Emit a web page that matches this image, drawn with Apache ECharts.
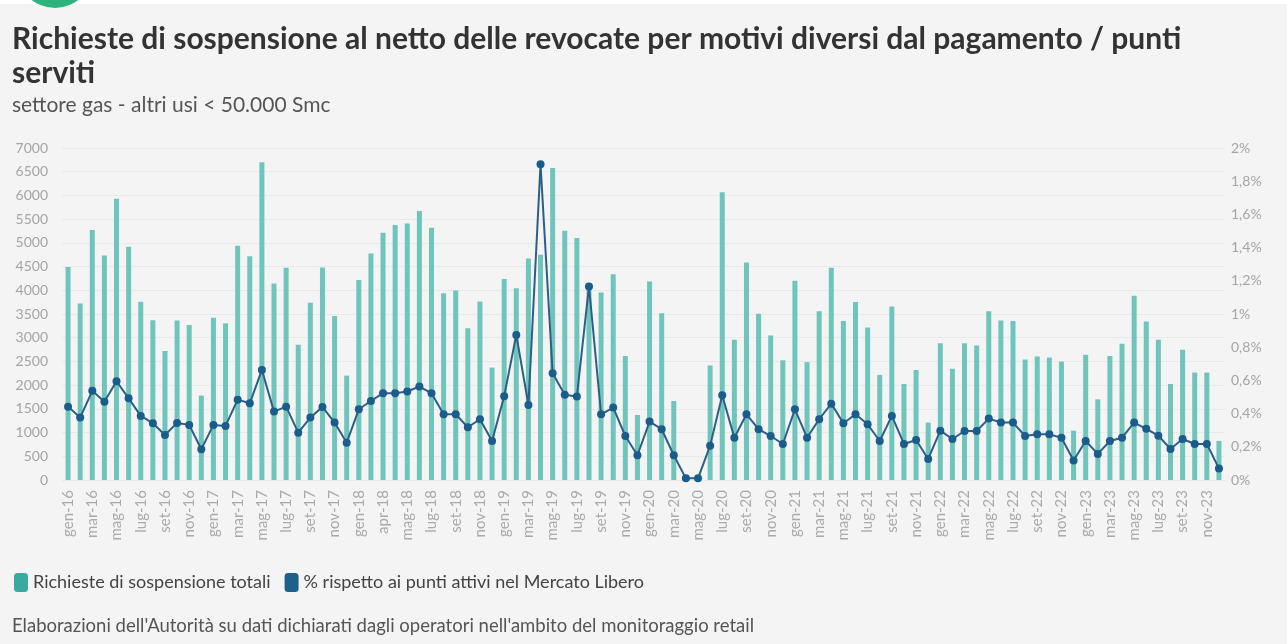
<!DOCTYPE html>
<html><head><meta charset="utf-8">
<script src="https://cdn.jsdelivr.net/npm/echarts@6/dist/echarts.min.js"></script>
<style>html,body{margin:0;padding:0;background:#f4f4f4;}#c{width:1287px;height:644px;}</style>
</head><body><div id="c"></div>
<script>
const categories = [
 'gen-16','feb-16','mar-16','apr-16','mag-16','giu-16','lug-16','ago-16','set-16','ott-16','nov-16','dic-16',
 'gen-17','feb-17','mar-17','apr-17','mag-17','giu-17','lug-17','ago-17','set-17','ott-17','nov-17','dic-17',
 'gen-18','feb-18','mar-18','apr-18','mag-18','giu-18','lug-18','ago-18','set-18','ott-18','nov-18','dic-18',
 'gen-19','feb-19','mar-19','apr-19','mag-19','giu-19','lug-19','ago-19','set-19','ott-19','nov-19','dic-19',
 'gen-20','feb-20','mar-20','apr-20','mag-20','giu-20','lug-20','ago-20','set-20','ott-20','nov-20','dic-20',
 'gen-21','feb-21','mar-21','apr-21','mag-21','giu-21','lug-21','ago-21','set-21','ott-21','nov-21','dic-21',
 'gen-22','feb-22','mar-22','apr-22','mag-22','giu-22','lug-22','ago-22','set-22','ott-22','nov-22','dic-22',
 'gen-23','feb-23','mar-23','apr-23','mag-23','giu-23','lug-23','ago-23','set-23','ott-23','nov-23','dic-23'
];
const tickLabels = [
 'gen-16','mar-16','mag-16','lug-16','set-16','nov-16',
 'gen-17','mar-17','mag-17','lug-17','set-17','nov-17',
 'gen-18','apr-18','mag-18','lug-18','set-18','nov-18',
 'gen-19','mar-19','mag-19','lug-19','set-19','nov-19',
 'gen-20','mar-20','mag-20','lug-20','set-20','nov-20',
 'gen-21','mar-21','mag-21','lug-21','set-21','nov-21',
 'gen-22','mar-22','mag-22','lug-22','set-22','nov-22',
 'gen-23','mar-23','mag-23','lug-23','set-23','nov-23'
];
const richieste = [
 4490,3720,5270,4735,5930,4920,3760,3370,2720,3365,3270,1780,
 3420,3305,4940,4715,6700,4145,4475,2850,3735,4480,3460,2200,
 4215,4775,5215,5375,5410,5670,5320,3935,3995,3200,3765,2370,
 4240,4045,4670,4750,6580,5255,5100,4050,3955,4340,2615,1370,
 4185,3515,1665,0,0,2415,6065,2955,4585,3505,3045,2525,
 4200,2485,3560,4475,3350,3755,3215,2215,3660,2025,2320,1210,
 2885,2345,2885,2835,3560,3365,3355,2540,2605,2580,2495,1040,
 2640,1700,2615,2875,3885,3340,2955,2025,2745,2265,2265,825
];
const percentuale = [
 0.442,0.376,0.537,0.472,0.595,0.492,0.386,0.342,0.271,0.344,0.332,0.185,
 0.332,0.326,0.484,0.462,0.663,0.412,0.442,0.285,0.376,0.440,0.346,0.225,
 0.426,0.476,0.523,0.523,0.533,0.563,0.523,0.396,0.396,0.318,0.366,0.235,
 0.505,0.874,0.452,1.902,0.643,0.513,0.503,1.166,0.396,0.436,0.265,0.149,
 0.352,0.306,0.149,0.01,0.01,0.207,0.511,0.255,0.396,0.306,0.265,0.217,
 0.426,0.255,0.366,0.460,0.342,0.396,0.336,0.235,0.386,0.217,0.241,0.127,
 0.297,0.247,0.295,0.295,0.370,0.346,0.346,0.265,0.275,0.275,0.255,0.117,
 0.235,0.157,0.235,0.255,0.346,0.308,0.267,0.187,0.247,0.217,0.217,0.070
];
const FONT = 'Lato';
const chart = echarts.init(document.getElementById('c'), null, {renderer: 'canvas'});
chart.setOption({
  backgroundColor: '#f4f4f4',
  animation: false,
  textStyle: {fontFamily: FONT},
  title: [
    {text: 'Richieste di sospensione al netto delle revocate per motivi diversi dal pagamento / punti serviti',
     left: 12, top: 22, padding: 0,
     textStyle: {fontFamily: FONT, fontSize: 30, fontWeight: 'bold', color: '#333', width: 1220, overflow: 'break', lineHeight: 34}},
    {text: 'settore gas - altri usi < 50.000 Smc', left: 12, top: 95, padding: 0,
     textStyle: {fontFamily: FONT, fontSize: 21, fontWeight: 'normal', color: '#555'}}
  ],
  graphic: [
    {type: 'rect', left: 0, top: 0, shape: {width: 1287, height: 4}, style: {fill: '#ffffff'}},
    {type: 'circle', shape: {cx: 55, cy: -30, r: 38}, style: {fill: '#2db37b'}},
    {type: 'text', left: 12, top: 617,
     style: {text: "Elaborazioni dell'Autorità su dati dichiarati dagli operatori nell'ambito del monitoraggio retail",
             font: '18.5px Lato', fill: '#555'}}
  ],
  legend: {
    left: 14, top: 573, itemWidth: 14, itemHeight: 19, itemGap: 14, padding: 0,
    textStyle: {fontFamily: FONT, fontSize: 18, color: '#444'},
    data: [
      {name: 'Richieste di sospensione totali', icon: 'roundRect', itemStyle: {color: '#3aaa9f'}},
      {name: '% rispetto ai punti attivi nel Mercato Libero', icon: 'roundRect', itemStyle: {color: '#1f5f8b'}}
    ]
  },
  grid: {left: 62, right: 62, top: 148, bottom: 164},
  xAxis: {
    type: 'category', data: categories,
    axisLine: {show: false}, axisTick: {show: false},
    axisLabel: {interval: 0, rotate: 90, color: '#aaa', fontSize: 15, margin: 10,
      formatter: (v, i) => i % 2 === 0 ? tickLabels[i / 2] : ''}
  },
  yAxis: [
    {type: 'value', min: 0, max: 7000, interval: 500,
     axisLabel: {color: '#a5a5a5', fontSize: 14, margin: 14, formatter: v => String(v)},
     splitLine: {lineStyle: {color: '#e9e9e9'}}, axisLine: {show: false}, axisTick: {show: false}},
    {type: 'value', min: 0, max: 2, interval: 0.2,
     axisLabel: {color: '#a5a5a5', fontSize: 14, margin: 6,
       formatter: v => (Math.round(v * 10) / 10).toString().replace('.', ',') + '%'},
     splitLine: {show: false}, axisLine: {show: false}, axisTick: {show: false}}
  ],
  series: [
    {name: 'Richieste di sospensione totali', type: 'bar', data: richieste, barWidth: 5,
     itemStyle: {color: '#6fc4bb'}},
    {name: '% rispetto ai punti attivi nel Mercato Libero', type: 'line', yAxisIndex: 1, data: percentuale,
     symbol: 'circle', symbolSize: 8, lineStyle: {color: '#2b5f86', width: 2},
     itemStyle: {color: '#1a5c8a'}}
  ]
});
</script></body></html>
